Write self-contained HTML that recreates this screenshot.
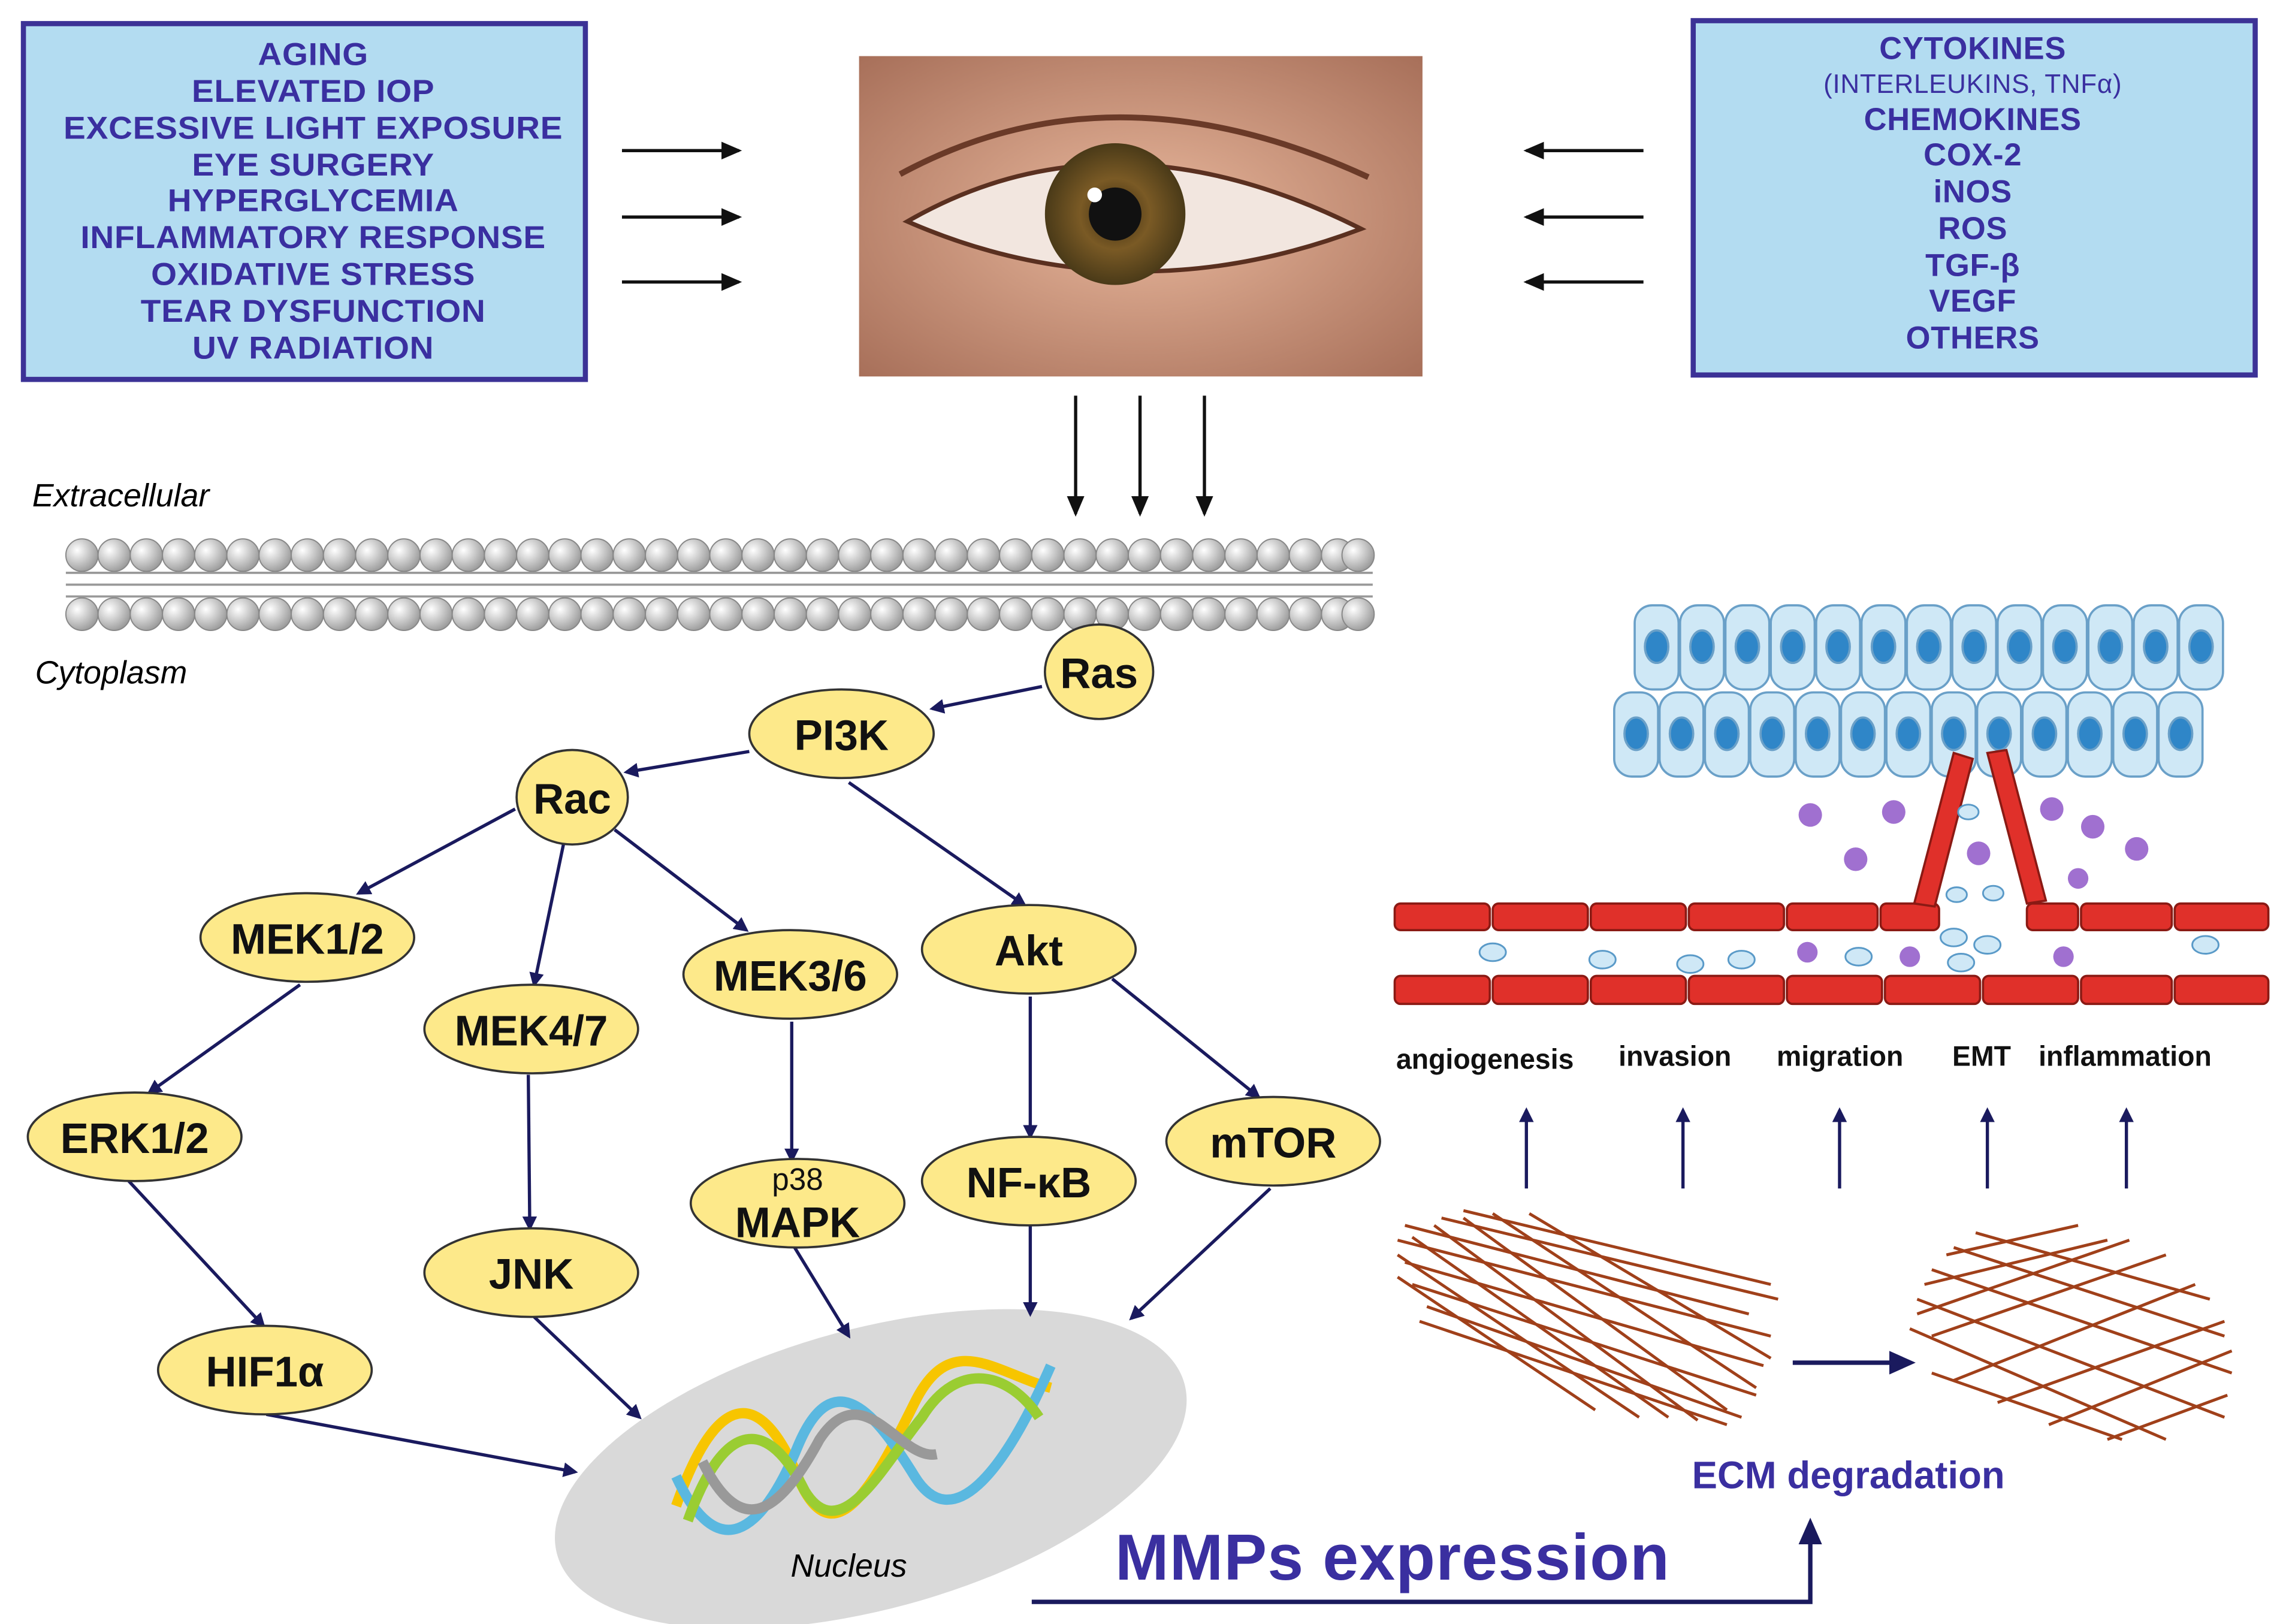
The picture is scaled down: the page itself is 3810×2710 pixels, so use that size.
<!DOCTYPE html>
<html><head><meta charset="utf-8"><style>
html,body{margin:0;padding:0;background:#fff;}
svg{display:block;}
.bt{font-family:"Liberation Sans",sans-serif;font-weight:bold;fill:#3a2fa0;font-size:21.5px;text-anchor:middle;letter-spacing:0.3px;}
.nd{fill:#fde98a;stroke:#333;stroke-width:1.5;}
.nt{font-family:"Liberation Sans",sans-serif;font-weight:bold;fill:#111;font-size:29px;text-anchor:middle;}
.ar{stroke:#1a1a5e;stroke-width:2.2;fill:none;marker-end:url(#ah);}
.ak{stroke:#111;stroke-width:2.2;fill:none;marker-end:url(#ak);}
.lab{font-family:"Liberation Sans",sans-serif;font-weight:bold;fill:#111;font-size:19px;}
</style></head><body>
<svg width="3810" height="2710" viewBox="0 0 1560 1100" preserveAspectRatio="none" xmlns="http://www.w3.org/2000/svg">
<defs>
<marker id="ah" markerWidth="10" markerHeight="10" refX="8" refY="5" orient="auto" markerUnits="userSpaceOnUse"><path d="M0,0 L10,5 L0,10 z" fill="#1a1a5e"/></marker>
<marker id="ak" markerWidth="14" markerHeight="12" refX="12" refY="6" orient="auto" markerUnits="userSpaceOnUse"><path d="M0,0 L14,6 L0,12 z" fill="#111"/></marker>
<marker id="ab" markerWidth="18" markerHeight="16" refX="14" refY="8" orient="auto" markerUnits="userSpaceOnUse"><path d="M0,0 L18,8 L0,16 z" fill="#1a1a5e"/></marker>
<radialGradient id="ball" cx="0.35" cy="0.35" r="0.7"><stop offset="0" stop-color="#fff"/><stop offset="1" stop-color="#9a9a9a"/></radialGradient>
<radialGradient id="skin" cx="0.5" cy="0.5" r="0.7"><stop offset="0" stop-color="#e8b79c"/><stop offset="1" stop-color="#a8705a"/></radialGradient>
<radialGradient id="iris" cx="0.5" cy="0.5" r="0.5"><stop offset="0" stop-color="#3a2a10"/><stop offset="0.5" stop-color="#7a5a25"/><stop offset="1" stop-color="#4a3a18"/></radialGradient>
</defs>

<rect x="16" y="16" width="384" height="241" fill="#b3dcf1" stroke="#3c3296" stroke-width="3.5"/>
<g class="bt" transform="translate(214,0) scale(1.05,1) translate(-214,0)">
<text x="214" y="44">AGING</text><text x="214" y="69">ELEVATED IOP</text>
<text x="214" y="94">EXCESSIVE LIGHT EXPOSURE</text><text x="214" y="119">EYE SURGERY</text>
<text x="214" y="143">HYPERGLYCEMIA</text><text x="214" y="168">INFLAMMATORY RESPONSE</text>
<text x="214" y="193">OXIDATIVE STRESS</text><text x="214" y="218">TEAR DYSFUNCTION</text>
<text x="214" y="243">UV RADIATION</text></g>

<rect x="1157" y="14" width="384" height="240" fill="#b3dcf1" stroke="#3c3296" stroke-width="3.5"/>
<g class="bt">
<text x="1348" y="40">CYTOKINES</text>
<text x="1348" y="63" style="font-weight:normal;font-size:18px">(INTERLEUKINS, TNFα)</text>
<text x="1348" y="88">CHEMOKINES</text><text x="1348" y="112">COX-2</text>
<text x="1348" y="137">iNOS</text><text x="1348" y="162">ROS</text>
<text x="1348" y="187">TGF-β</text><text x="1348" y="211">VEGF</text>
<text x="1348" y="236">OTHERS</text></g>

<rect x="587" y="38" width="385" height="217" fill="url(#skin)"/>
<path d="M620,150 Q760,70 930,155 Q770,215 620,150 z" fill="#f2e6df" stroke="#5a3020" stroke-width="3"/>
<circle cx="762" cy="145" r="48" fill="url(#iris)"/>
<circle cx="762" cy="145" r="18" fill="#111"/>
<circle cx="748" cy="132" r="5" fill="#fff"/>
<path d="M615,118 Q760,40 935,120" stroke="#6a3a28" stroke-width="4" fill="none"/>

<line class="ak" x1="425" y1="102" x2="505" y2="102"/><line class="ak" x1="425" y1="147" x2="505" y2="147"/><line class="ak" x1="425" y1="191" x2="505" y2="191"/>
<line class="ak" x1="1123" y1="102" x2="1043" y2="102"/><line class="ak" x1="1123" y1="147" x2="1043" y2="147"/><line class="ak" x1="1123" y1="191" x2="1043" y2="191"/>
<line class="ak" x1="735" y1="268" x2="735" y2="348"/><line class="ak" x1="779" y1="268" x2="779" y2="348"/><line class="ak" x1="823" y1="268" x2="823" y2="348"/>

<text x="22" y="343" style="font-family:'Liberation Sans',sans-serif;font-style:italic;font-size:22px">Extracellular</text>
<text x="24" y="463" style="font-family:'Liberation Sans',sans-serif;font-style:italic;font-size:22px">Cytoplasm</text>

<g stroke="#999" stroke-width="1.5">
<line x1="45" y1="388" x2="938" y2="388"/><line x1="45" y1="396" x2="938" y2="396"/><line x1="45" y1="404" x2="938" y2="404"/>
</g>
<g id="mem" fill="url(#ball)" stroke="#888" stroke-width="0.8">
<circle cx="56" cy="376" r="11"/><circle cx="78" cy="376" r="11"/><circle cx="100" cy="376" r="11"/><circle cx="122" cy="376" r="11"/><circle cx="144" cy="376" r="11"/><circle cx="166" cy="376" r="11"/><circle cx="188" cy="376" r="11"/><circle cx="210" cy="376" r="11"/><circle cx="232" cy="376" r="11"/><circle cx="254" cy="376" r="11"/><circle cx="276" cy="376" r="11"/><circle cx="298" cy="376" r="11"/><circle cx="320" cy="376" r="11"/><circle cx="342" cy="376" r="11"/><circle cx="364" cy="376" r="11"/><circle cx="386" cy="376" r="11"/><circle cx="408" cy="376" r="11"/><circle cx="430" cy="376" r="11"/><circle cx="452" cy="376" r="11"/><circle cx="474" cy="376" r="11"/><circle cx="496" cy="376" r="11"/><circle cx="518" cy="376" r="11"/><circle cx="540" cy="376" r="11"/><circle cx="562" cy="376" r="11"/><circle cx="584" cy="376" r="11"/><circle cx="606" cy="376" r="11"/><circle cx="628" cy="376" r="11"/><circle cx="650" cy="376" r="11"/><circle cx="672" cy="376" r="11"/><circle cx="694" cy="376" r="11"/><circle cx="716" cy="376" r="11"/><circle cx="738" cy="376" r="11"/><circle cx="760" cy="376" r="11"/><circle cx="782" cy="376" r="11"/><circle cx="804" cy="376" r="11"/><circle cx="826" cy="376" r="11"/><circle cx="848" cy="376" r="11"/><circle cx="870" cy="376" r="11"/><circle cx="892" cy="376" r="11"/><circle cx="914" cy="376" r="11"/><circle cx="928" cy="376" r="11"/>
</g>
<use href="#mem" transform="translate(0,40)"/>

<ellipse cx="595" cy="995" rx="222" ry="95" transform="rotate(-15 595 995)" fill="#d9d9d9"/>
<g fill="none" stroke-width="7">
<path d="M462,1020 C490,940 520,940 545,1000 C570,1060 600,1000 625,950 C650,900 680,930 718,940" stroke="#f7c500"/>
<path d="M462,1000 C490,1060 520,1040 545,980 C570,920 600,960 625,1000 C650,1040 685,1000 718,925" stroke="#5ab8e0"/>
<path d="M470,1030 C495,960 525,960 550,1010 C575,1050 605,990 630,960 C655,920 690,930 710,960" stroke="#9acd32"/>
<path d="M480,990 C505,1040 530,1030 560,975 C590,930 615,990 640,985" stroke="#999"/>
</g>
<text x="580" y="1068" style="font-family:'Liberation Sans',sans-serif;font-style:italic;font-size:22px" text-anchor="middle">Nucleus</text>

<line class="ar" x1="712" y1="465" x2="637" y2="480"/>
<line class="ar" x1="512" y1="509" x2="428" y2="523"/>
<line class="ar" x1="352" y1="548" x2="245" y2="605"/>
<line class="ar" x1="385" y1="572" x2="365" y2="667"/>
<line class="ar" x1="420" y1="562" x2="510" y2="630"/>
<line class="ar" x1="580" y1="530" x2="700" y2="613"/>
<line class="ar" x1="205" y1="667" x2="102" y2="740"/>
<line class="ar" x1="361" y1="728" x2="362" y2="832"/>
<line class="ar" x1="541" y1="692" x2="541" y2="786"/>
<line class="ar" x1="704" y1="675" x2="704" y2="770"/>
<line class="ar" x1="760" y1="663" x2="860" y2="743"/>
<line class="ar" x1="88" y1="800" x2="180" y2="898"/>
<line class="ar" x1="182" y1="958" x2="393" y2="997"/>
<line class="ar" x1="365" y1="892" x2="437" y2="960"/>
<line class="ar" x1="543" y1="845" x2="580" y2="905"/>
<line class="ar" x1="704" y1="830" x2="704" y2="890"/>
<line class="ar" x1="868" y1="805" x2="773" y2="893"/>

<ellipse class="nd" cx="751" cy="455" rx="37" ry="32"/><text class="nt" x="751" y="466">Ras</text>
<ellipse class="nd" cx="575" cy="497" rx="63" ry="30"/><text class="nt" x="575" y="508">PI3K</text>
<ellipse class="nd" cx="391" cy="540" rx="38" ry="32"/><text class="nt" x="391" y="551">Rac</text>
<ellipse class="nd" cx="210" cy="635" rx="73" ry="30"/><text class="nt" x="210" y="646">MEK1/2</text>
<ellipse class="nd" cx="363" cy="697" rx="73" ry="30"/><text class="nt" x="363" y="708">MEK4/7</text>
<ellipse class="nd" cx="540" cy="660" rx="73" ry="30"/><text class="nt" x="540" y="671">MEK3/6</text>
<ellipse class="nd" cx="703" cy="643" rx="73" ry="30"/><text class="nt" x="703" y="654">Akt</text>
<ellipse class="nd" cx="92" cy="770" rx="73" ry="30"/><text class="nt" x="92" y="781">ERK1/2</text>
<ellipse class="nd" cx="545" cy="815" rx="73" ry="30"/><text class="nt" x="545" y="806" style="font-size:21px;font-weight:normal">p38</text><text class="nt" x="545" y="838">MAPK</text>
<ellipse class="nd" cx="703" cy="800" rx="73" ry="30"/><text class="nt" x="703" y="811">NF-κB</text>
<ellipse class="nd" cx="870" cy="773" rx="73" ry="30"/><text class="nt" x="870" y="784">mTOR</text>
<ellipse class="nd" cx="363" cy="862" rx="73" ry="30"/><text class="nt" x="363" y="873">JNK</text>
<ellipse class="nd" cx="181" cy="928" rx="73" ry="30"/><text class="nt" x="181" y="939">HIF1α</text>

<text x="762" y="1070" style="font-family:'Liberation Sans',sans-serif;font-weight:bold;font-size:44px;fill:#3a2fa0;letter-spacing:0.5px">MMPs expression</text>
<polyline points="705,1085 1237,1085 1237,1032" fill="none" stroke="#1a1a5e" stroke-width="3" marker-end="url(#ab)"/>
<text x="1263" y="1008" style="font-family:'Liberation Sans',sans-serif;font-weight:bold;font-size:26px;fill:#3a2fa0" text-anchor="middle">ECM degradation</text>

<g stroke="#a0401a" stroke-width="2" fill="none">
<path d="M955,840 L1210,905 M960,855 L1205,925 M965,870 L1200,945 M975,885 L1190,960 M960,830 L1195,890 M985,825 L1215,880 M1000,820 L1210,870 M955,850 L1120,960 M965,838 L1140,960 M980,830 L1160,962 M1000,825 L1180,955 M1020,822 L1200,940 M1045,822 L1210,920 M955,865 L1090,955 M970,895 L1180,965"/>
<path d="M1310,880 L1520,960 M1320,860 L1525,930 M1335,845 L1520,905 M1350,835 L1510,880 M1305,900 L1480,975 M1320,930 L1450,975 M1315,870 L1440,840 M1320,905 L1480,850 M1335,935 L1500,870 M1365,950 L1520,895 M1400,965 L1525,915 M1440,975 L1522,945 M1330,850 L1420,830 M1310,890 L1455,840"/>
</g>
<line x1="1225" y1="923" x2="1305" y2="923" stroke="#1a1a5e" stroke-width="3" marker-end="url(#ab)"/>

<line class="ar" x1="1043" y1="805" x2="1043" y2="752"/>
<line class="ar" x1="1150" y1="805" x2="1150" y2="752"/>
<line class="ar" x1="1257" y1="805" x2="1257" y2="752"/>
<line class="ar" x1="1358" y1="805" x2="1358" y2="752"/>
<line class="ar" x1="1453" y1="805" x2="1453" y2="752"/>
<text class="lab" x="954" y="724">angiogenesis</text>
<text class="lab" x="1106" y="722">invasion</text>
<text class="lab" x="1214" y="722">migration</text>
<text class="lab" x="1334" y="722">EMT</text>
<text class="lab" x="1393" y="722">inflammation</text>

<g stroke="#6aa0c8" stroke-width="1.5">
<g id="cellrow">
<rect x="1117" y="410" width="30" height="57" rx="12" fill="#cfe8f6"/><ellipse cx="1132" cy="438" rx="8" ry="11" fill="#2f86c8"/>
<rect x="1148" y="410" width="30" height="57" rx="12" fill="#cfe8f6"/><ellipse cx="1163" cy="438" rx="8" ry="11" fill="#2f86c8"/>
<rect x="1179" y="410" width="30" height="57" rx="12" fill="#cfe8f6"/><ellipse cx="1194" cy="438" rx="8" ry="11" fill="#2f86c8"/>
<rect x="1210" y="410" width="30" height="57" rx="12" fill="#cfe8f6"/><ellipse cx="1225" cy="438" rx="8" ry="11" fill="#2f86c8"/>
<rect x="1241" y="410" width="30" height="57" rx="12" fill="#cfe8f6"/><ellipse cx="1256" cy="438" rx="8" ry="11" fill="#2f86c8"/>
<rect x="1272" y="410" width="30" height="57" rx="12" fill="#cfe8f6"/><ellipse cx="1287" cy="438" rx="8" ry="11" fill="#2f86c8"/>
<rect x="1303" y="410" width="30" height="57" rx="12" fill="#cfe8f6"/><ellipse cx="1318" cy="438" rx="8" ry="11" fill="#2f86c8"/>
<rect x="1334" y="410" width="30" height="57" rx="12" fill="#cfe8f6"/><ellipse cx="1349" cy="438" rx="8" ry="11" fill="#2f86c8"/>
<rect x="1365" y="410" width="30" height="57" rx="12" fill="#cfe8f6"/><ellipse cx="1380" cy="438" rx="8" ry="11" fill="#2f86c8"/>
<rect x="1396" y="410" width="30" height="57" rx="12" fill="#cfe8f6"/><ellipse cx="1411" cy="438" rx="8" ry="11" fill="#2f86c8"/>
<rect x="1427" y="410" width="30" height="57" rx="12" fill="#cfe8f6"/><ellipse cx="1442" cy="438" rx="8" ry="11" fill="#2f86c8"/>
<rect x="1458" y="410" width="30" height="57" rx="12" fill="#cfe8f6"/><ellipse cx="1473" cy="438" rx="8" ry="11" fill="#2f86c8"/>
<rect x="1489" y="410" width="30" height="57" rx="12" fill="#cfe8f6"/><ellipse cx="1504" cy="438" rx="8" ry="11" fill="#2f86c8"/>
</g>
<use href="#cellrow" transform="translate(-14,59)"/>
</g>

<g fill="#e0302a" stroke="#8a1a14" stroke-width="1.5">
<rect x="953" y="612" width="65" height="18" rx="4"/><rect x="1020" y="612" width="65" height="18" rx="4"/><rect x="1087" y="612" width="65" height="18" rx="4"/><rect x="1154" y="612" width="65" height="18" rx="4"/><rect x="1221" y="612" width="62" height="18" rx="4"/><rect x="1285" y="612" width="40" height="18" rx="4"/><rect x="1385" y="612" width="35" height="18" rx="4"/><rect x="1422" y="612" width="62" height="18" rx="4"/><rect x="1486" y="612" width="64" height="18" rx="4"/>
<rect x="953" y="661" width="65" height="19" rx="4"/><rect x="1020" y="661" width="65" height="19" rx="4"/><rect x="1087" y="661" width="65" height="19" rx="4"/><rect x="1154" y="661" width="65" height="19" rx="4"/><rect x="1221" y="661" width="65" height="19" rx="4"/><rect x="1288" y="661" width="65" height="19" rx="4"/><rect x="1355" y="661" width="65" height="19" rx="4"/><rect x="1422" y="661" width="62" height="19" rx="4"/><rect x="1486" y="661" width="64" height="19" rx="4"/>
<path d="M1308,612 L1335,510 L1348,514 L1322,614 z"/>
<path d="M1385,612 L1358,510 L1371,508 L1398,610 z"/>
</g>
<g fill="#a070d0"><circle cx="1237" cy="552" r="8"/><circle cx="1294" cy="550" r="8"/><circle cx="1268" cy="582" r="8"/><circle cx="1352" cy="578" r="8"/><circle cx="1402" cy="548" r="8"/><circle cx="1430" cy="560" r="8"/><circle cx="1460" cy="575" r="8"/><circle cx="1420" cy="595" r="7"/><circle cx="1235" cy="645" r="7"/><circle cx="1305" cy="648" r="7"/><circle cx="1410" cy="648" r="7"/></g>
<g fill="#cfe8f6" stroke="#5a9ac8" stroke-width="1.2"><ellipse cx="1020" cy="645" rx="9" ry="6"/><ellipse cx="1095" cy="650" rx="9" ry="6"/><ellipse cx="1155" cy="653" rx="9" ry="6"/><ellipse cx="1190" cy="650" rx="9" ry="6"/><ellipse cx="1270" cy="648" rx="9" ry="6"/><ellipse cx="1335" cy="635" rx="9" ry="6"/><ellipse cx="1358" cy="640" rx="9" ry="6"/><ellipse cx="1340" cy="652" rx="9" ry="6"/><ellipse cx="1345" cy="550" rx="7" ry="5"/><ellipse cx="1337" cy="606" rx="7" ry="5"/><ellipse cx="1362" cy="605" rx="7" ry="5"/><ellipse cx="1507" cy="640" rx="9" ry="6"/></g>
</svg>
</body></html>
